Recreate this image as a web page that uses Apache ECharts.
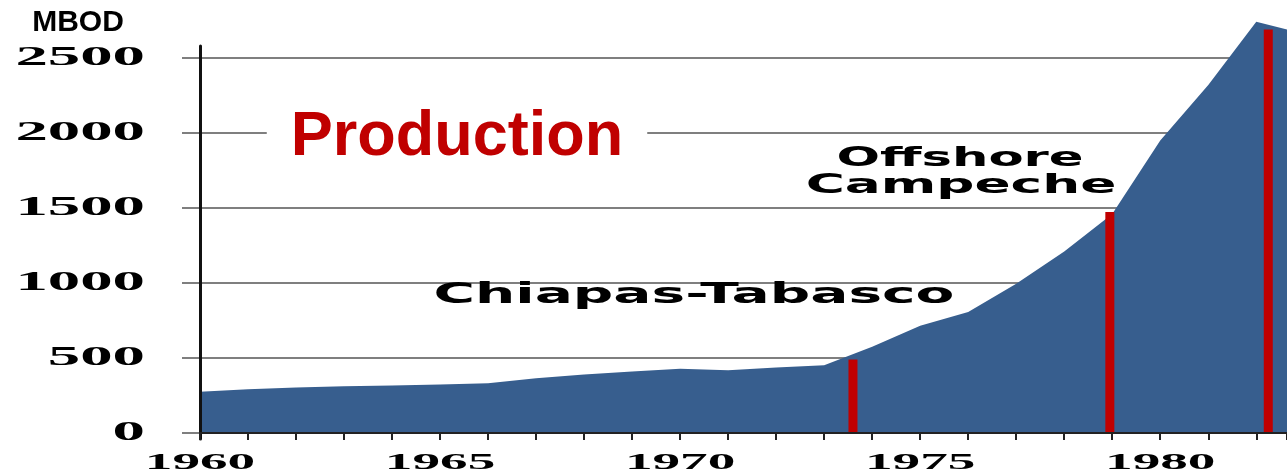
<!DOCTYPE html>
<html>
<head>
<meta charset="utf-8">
<title>Mexico oil production</title>
<script src="https://cdn.jsdelivr.net/npm/echarts@6/dist/echarts.min.js"></script>
<style>
    html, body { margin: 0; padding: 0; background: #fff; }
    #chart { width: 1287px; height: 475px; }
</style>
</head>
<body>
<div id="chart"></div>
<script>
// production, thousand barrels per day
const years = [1960, 1961, 1962, 1963, 1964, 1965, 1966, 1967, 1968, 1969, 1970, 1971,
    1972, 1973, 1974, 1975, 1976, 1977, 1978, 1979, 1980, 1981, 1982, 1983];
const production = [275, 292, 304, 312, 317, 323, 331, 365, 390, 410, 429, 418,
    437, 452, 575, 715, 806, 995, 1210, 1460, 1950, 2320, 2742, 2660];

// red markers (discoveries)
const markerYears = [1973.6, 1978.95, 1982.25];
const markerHeights = [490, 1473, 2690];

const yTicks = [0, 500, 1000, 1500, 2000, 2500];
const xTickLabels = [1960, 1965, 1970, 1975, 1980];

let chart = echarts.init(document.getElementById("chart"));

const option = {
    animation: false,
    grid: [
        { left: 200, right: -2, top: 58, bottom: 42 },
        // only carries the tall black y axis line
        { left: 200, width: 1, top: 46, bottom: 36 }
    ],
    xAxis: [
        {
            type: "value",
            gridIndex: 0,
            min: 1960,
            max: 1982.64,
            interval: 1,
            z: 10,
            axisLine: { show: true, onZero: false, lineStyle: { color: "#222", width: 2 } },
            axisTick: { show: true, length: 7, lineStyle: { color: "#222", width: 2 } },
            axisLabel: { show: false },
            splitLine: { show: false }
        },
        { type: "value", gridIndex: 1, show: false }
    ],
    yAxis: [
        {
            type: "value",
            gridIndex: 0,
            position: "left",
            min: 0,
            max: 2500,
            interval: 500,
            axisLine: { show: false },
            axisTick: { show: true, length: 18, lineStyle: { color: "#555", width: 1.5 } },
            axisLabel: { show: false },
            splitLine: { show: true, lineStyle: { color: "#555", width: 1.5 } }
        },
        {
            type: "value",
            gridIndex: 1,
            position: "left",
            z: 10,
            axisLine: { show: true, lineStyle: { color: "#111", width: 3 } },
            axisTick: { show: false },
            axisLabel: { show: false },
            splitLine: { show: false }
        }
    ],
    series: [
        {
            name: "Production",
            type: "line",
            xAxisIndex: 0,
            yAxisIndex: 0,
            data: years.map((y, i) => [y, production[i]]),
            symbol: "none",
            clip: false,
            z: 2,
            lineStyle: { width: 0 },
            areaStyle: { color: "#375e8e", opacity: 1 }
        },
        {
            name: "Markers",
            type: "bar",
            xAxisIndex: 0,
            yAxisIndex: 0,
            data: markerYears.map((y, i) => [y, markerHeights[i]]),
            barWidth: 9,
            clip: false,
            z: 3,
            itemStyle: { color: "#c00000" }
        }
    ]
};
chart.setOption(option);

// tick labels are drawn as stretched text so they match the wide lettering
let graphics = [];
yTicks.forEach((v) => {
    const p = chart.convertToPixel({ gridIndex: 0 }, [1960, v]);
    graphics.push({
        type: "text", x: 145, y: p[1], scaleX: 2.4, z: 100,
        style: { text: String(v), fill: "#000", font: "bold 27px 'Liberation Serif'",
            textAlign: "right", textVerticalAlign: "middle" }
    });
});
xTickLabels.forEach((v) => {
    const p = chart.convertToPixel({ gridIndex: 0 }, [v, 0]);
    graphics.push({
        type: "text", x: p[0], y: 463, scaleX: 2.4, z: 100,
        style: { text: String(v), fill: "#000", font: "bold 23px 'Liberation Serif'",
            textAlign: "center", textVerticalAlign: "middle" }
    });
});

// titles and annotations
graphics.push(
    {
        type: "text", x: 78, y: 23, z: 100,
        style: { text: "MBOD", fill: "#000", font: "bold 30px 'Liberation Sans'",
            textAlign: "center", textVerticalAlign: "middle" }
    },
    {
        type: "text", x: 457, y: 138, z: 100,
        style: { text: "Production", fill: "#c00000", font: "bold 63px 'Liberation Sans'",
            textAlign: "center", textVerticalAlign: "middle",
            backgroundColor: "#fff", padding: [2, 24] }
    },
    {
        type: "text", x: 694, y: 295, scaleX: 1.95, z: 100,
        style: { text: "Chiapas-Tabasco", fill: "#000", font: "bold 29px 'DejaVu Sans'",
            textAlign: "center", textVerticalAlign: "middle" }
    },
    {
        type: "text", x: 960, y: 159, scaleX: 1.97, z: 100,
        style: { text: "Offshore", fill: "#000", font: "bold 26px 'DejaVu Sans'",
            textAlign: "center", textVerticalAlign: "middle" }
    },
    {
        type: "text", x: 961, y: 186, scaleX: 2.05, z: 100,
        style: { text: "Campeche", fill: "#000", font: "bold 26px 'DejaVu Sans'",
            textAlign: "center", textVerticalAlign: "middle" }
    }
);
chart.setOption({ graphic: graphics });
</script>
</body>
</html>
